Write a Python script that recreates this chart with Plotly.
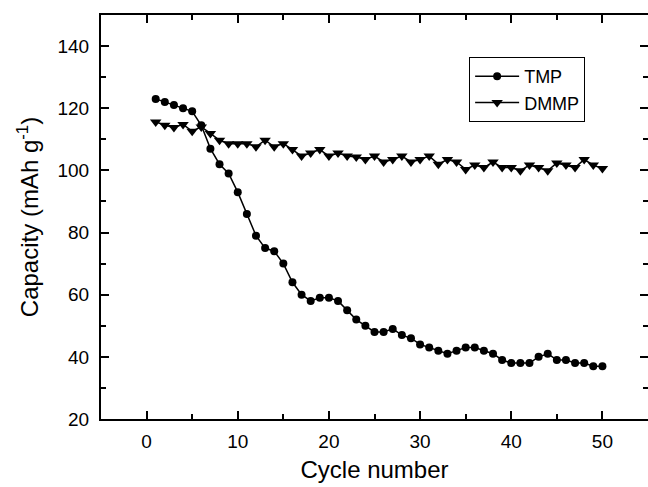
import plotly.graph_objects as go

cycles = list(range(1, 51))
tmp = [123, 122, 121, 120, 119, 114.5, 107, 102, 99, 93,
       86, 79, 75, 74, 70, 64, 60, 58, 59, 59,
       58, 55, 52, 50, 48, 48, 49, 47, 46, 44,
       43, 42, 41, 42, 43, 43, 42, 41, 39, 38,
       38, 38, 40, 41, 39, 39, 38, 38, 37, 37]
dmmp = [115.6, 114.5, 113.8, 114.8, 112.6, 114, 111.9, 109.7, 108.6, 108.6,
        108.6, 107.6, 109.7, 107.6, 108.6, 106.7, 104.6, 105.6, 106.7, 104.6,
        105.6, 104.6, 104.3, 103.5, 104.6, 102.7, 103.5, 104.6, 102.7, 103.5,
        104.6, 102.0, 103.5, 102.7, 100.3, 101.7, 100.9, 102.7, 100.9, 100.9,
        99.9, 101.7, 100.9, 99.9, 102.4, 101.7, 100.9, 103.5, 101.7, 100.6]

FONT = "Liberation Sans, Arial, sans-serif"
XR = [-5, 55]
YR = [20, 150]

fig = go.Figure()
fig.add_trace(go.Scatter(x=cycles, y=tmp, name="TMP", mode="lines+markers",
                         line=dict(color="black", width=1.5),
                         marker=dict(symbol="circle", size=8, color="black")))
fig.add_trace(go.Scatter(x=cycles, y=dmmp, name="DMMP", mode="lines+markers",
                         line=dict(color="black", width=1.5),
                         marker=dict(symbol="triangle-down", size=10, color="black")))
# helper trace so the right-side tick axis is drawn
fig.add_trace(go.Scatter(x=[None], y=[None], yaxis="y2", showlegend=False,
                         hoverinfo="skip"))

fig.update_layout(
    width=648, height=487,
    margin=dict(l=101, r=0, t=15, b=68),
    paper_bgcolor="white", plot_bgcolor="white",
    font=dict(family=FONT, size=19, color="black"),
    showlegend=True,
    legend=dict(x=0.673, y=0.896, xanchor="left", yanchor="top",
                bordercolor="black", borderwidth=1, bgcolor="white",
                font=dict(size=18), tracegroupgap=0, itemwidth=44),
    xaxis=dict(range=XR, tickvals=[0, 10, 20, 30, 40, 50],
               ticks="inside", ticklen=8, tickwidth=2, tickcolor="black",
               showline=True, linewidth=2, linecolor="black", mirror="ticks",
               showgrid=False, zeroline=False, ticklabelstandoff=4,
               minor=dict(tickvals=[5, 15, 25, 35, 45], ticks="inside",
                          ticklen=5, tickwidth=2, tickcolor="black", showgrid=False),
               title=dict(text="Cycle number", font=dict(size=24), standoff=10),
               tickfont=dict(size=19)),
    yaxis=dict(range=YR, tickvals=[20, 40, 60, 80, 100, 120, 140],
               ticks="inside", ticklen=8, tickwidth=2, tickcolor="black",
               showline=True, linewidth=2, linecolor="black", mirror=False,
               showgrid=False, zeroline=False, ticklabelstandoff=6,
               minor=dict(tickvals=[30, 50, 70, 90, 110, 130], ticks="inside",
                          ticklen=5, tickwidth=2, tickcolor="black", showgrid=False),
               title=dict(text="Capacity (mAh g<sup>-1</sup>)", font=dict(size=24), standoff=12),
               tickfont=dict(size=19)),
    yaxis2=dict(range=YR, overlaying="y", side="right",
                tickvals=[20, 40, 60, 80, 100, 120, 140],
                ticks="inside", ticklen=8, tickwidth=2, tickcolor="black",
                showticklabels=False, showline=False, showgrid=False, zeroline=False,
                minor=dict(tickvals=[30, 50, 70, 90, 110, 130], ticks="inside",
                           ticklen=5, tickwidth=2, tickcolor="black", showgrid=False)),
)

fig.write_html("out.html")
